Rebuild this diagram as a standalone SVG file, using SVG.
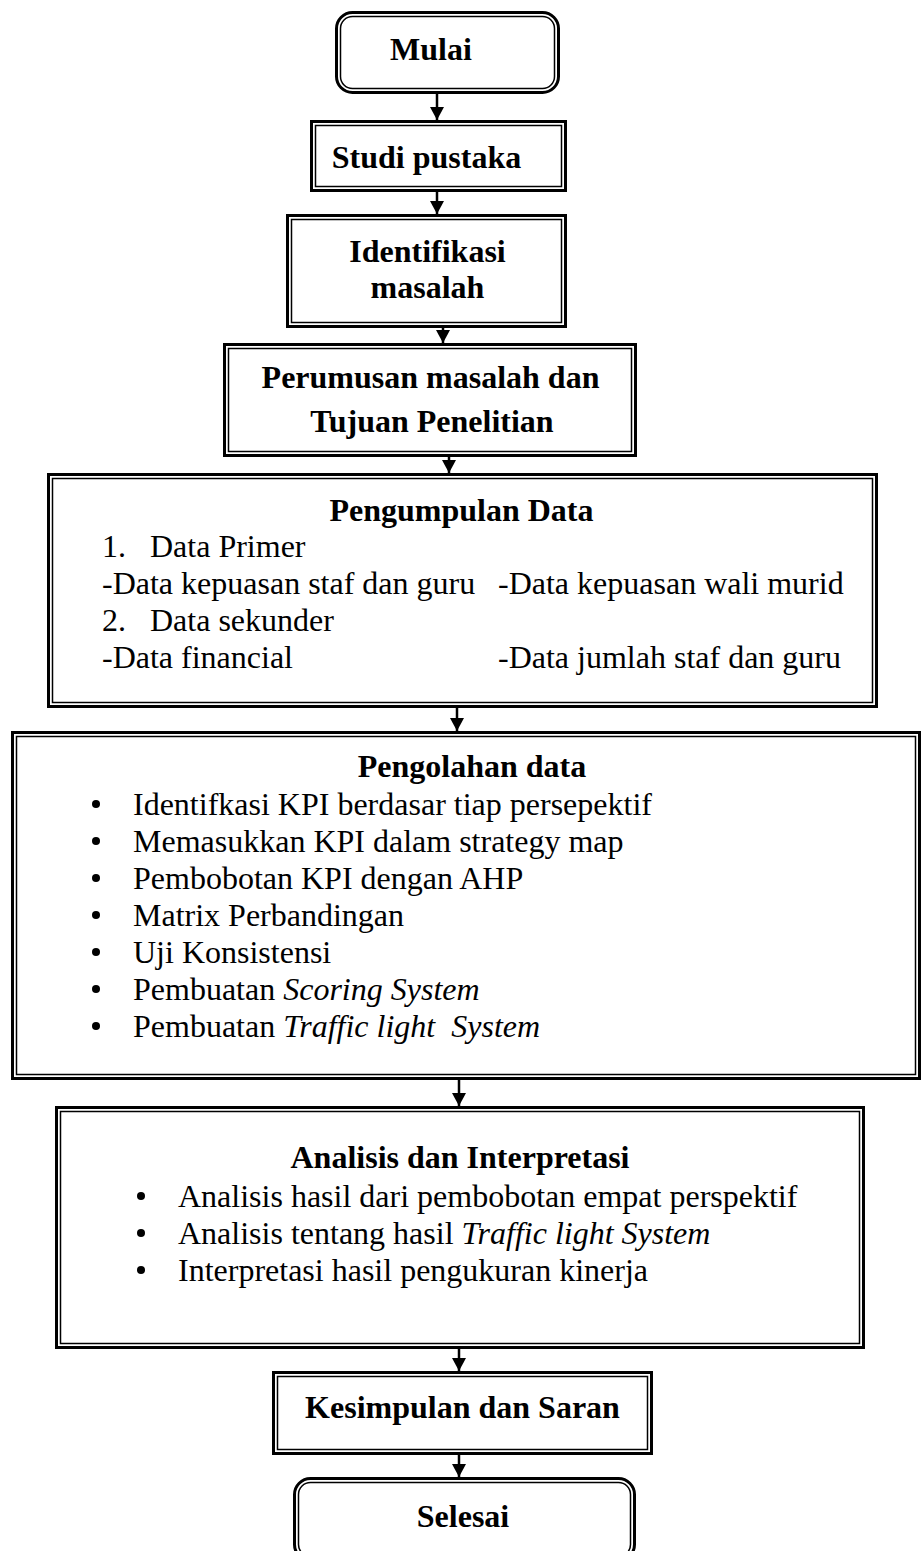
<svg xmlns="http://www.w3.org/2000/svg" width="923" height="1551" viewBox="0 0 923 1551">
<defs>
<style>
.o{fill:none;stroke:#000;stroke-width:3}
.i{fill:none;stroke:#000;stroke-width:1.5}
.h{font-family:"Liberation Serif","Times New Roman",serif;font-size:32px;font-weight:bold;text-anchor:middle;fill:#000}
.t{font-family:"Liberation Serif","Times New Roman",serif;font-size:32px;fill:#000;white-space:pre}
.it{font-style:italic}
.c{stroke:#000;stroke-width:2.5;fill:none;marker-end:url(#ah)}
.b{fill:#000}
</style>
<marker id="ah" viewBox="0 0 13 14" refX="13" refY="7" markerWidth="13" markerHeight="14" markerUnits="userSpaceOnUse" orient="auto">
<path d="M0,0 L13,7 L0,14 Z" fill="#000"/>
</marker>
</defs>
<rect width="923" height="1551" fill="#fff"/>
<g id="connectors">
<line class="c" x1="437" y1="94" x2="437" y2="120"/>
<line class="c" x1="437" y1="192" x2="437" y2="214"/>
<line class="c" x1="443" y1="328" x2="443" y2="343"/>
<line class="c" x1="449" y1="457" x2="449" y2="473"/>
<line class="c" x1="457" y1="708" x2="457" y2="731"/>
<line class="c" x1="459" y1="1080" x2="459" y2="1106"/>
<line class="c" x1="459" y1="1349" x2="459" y2="1371"/>
<line class="c" x1="459" y1="1455" x2="459" y2="1477"/>
</g>
<g id="mulai">
<rect class="o" x="336.5" y="12.5" width="222" height="80" rx="16"/>
<rect class="i" x="340.5" y="16.5" width="214" height="72" rx="12"/>
<text class="h" x="431" y="60">Mulai</text>
</g>
<g id="studi">
<rect class="o" x="311.5" y="121.5" width="254" height="69"/>
<rect class="i" x="315.5" y="125.5" width="246" height="61"/>
<text class="h" x="426.5" y="168">Studi pustaka</text>
</g>
<g id="identifikasi">
<rect class="o" x="287.5" y="215.5" width="278" height="111"/>
<rect class="i" x="291.5" y="219.5" width="270" height="103"/>
<text class="h" x="427.5" y="262">Identifikasi</text>
<text class="h" x="427.5" y="298">masalah</text>
</g>
<g id="perumusan">
<rect class="o" x="224.5" y="344.5" width="411" height="111"/>
<rect class="i" x="228.5" y="348.5" width="403" height="103"/>
<text class="h" x="430.5" y="388">Perumusan masalah dan</text>
<text class="h" x="432" y="432">Tujuan Penelitian</text>
</g>
<g id="pengumpulan">
<rect class="o" x="48.5" y="474.5" width="828" height="232"/>
<rect class="i" x="52.5" y="478.5" width="820" height="224"/>
<text class="h" x="461.5" y="521">Pengumpulan Data</text>
<text class="t" x="102" y="557">1.</text>
<text class="t" x="150" y="557">Data Primer</text>
<text class="t" x="102" y="594">-Data kepuasan staf dan guru</text>
<text class="t" x="498" y="594">-Data kepuasan wali murid</text>
<text class="t" x="102" y="631">2.</text>
<text class="t" x="150" y="631">Data sekunder</text>
<text class="t" x="102" y="668">-Data financial</text>
<text class="t" x="498" y="668">-Data jumlah staf dan guru</text>
</g>
<g id="pengolahan">
<rect class="o" x="12.5" y="732.5" width="907" height="346"/>
<rect class="i" x="16.5" y="736.5" width="899" height="338"/>
<text class="h" x="472" y="777">Pengolahan data</text>
<circle class="b" cx="96" cy="804" r="4"/>
<text class="t" x="133" y="815">Identifkasi KPI berdasar tiap persepektif</text>
<circle class="b" cx="96" cy="841" r="4"/>
<text class="t" x="133" y="852">Memasukkan KPI dalam strategy map</text>
<circle class="b" cx="96" cy="878" r="4"/>
<text class="t" x="133" y="889">Pembobotan KPI dengan AHP</text>
<circle class="b" cx="96" cy="915" r="4"/>
<text class="t" x="133" y="926">Matrix Perbandingan</text>
<circle class="b" cx="96" cy="952" r="4"/>
<text class="t" x="133" y="963">Uji Konsistensi</text>
<circle class="b" cx="96" cy="989" r="4"/>
<text class="t" x="133" y="1000">Pembuatan <tspan class="it">Scoring System</tspan></text>
<circle class="b" cx="96" cy="1026" r="4"/>
<text class="t" x="133" y="1037">Pembuatan <tspan class="it">Traffic light  System</tspan></text>
</g>
<g id="analisis">
<rect class="o" x="56.5" y="1107.5" width="807" height="240"/>
<rect class="i" x="60.5" y="1111.5" width="799" height="232"/>
<text class="h" x="460" y="1168">Analisis dan Interpretasi</text>
<circle class="b" cx="141" cy="1196" r="4"/>
<text class="t" x="178" y="1207">Analisis hasil dari pembobotan empat perspektif</text>
<circle class="b" cx="141" cy="1233" r="4"/>
<text class="t" x="178" y="1244">Analisis tentang hasil <tspan class="it">Traffic light System</tspan></text>
<circle class="b" cx="141" cy="1270" r="4"/>
<text class="t" x="178" y="1281">Interpretasi hasil pengukuran kinerja</text>
</g>
<g id="kesimpulan">
<rect class="o" x="273.5" y="1372.5" width="378" height="81"/>
<rect class="i" x="277.5" y="1376.5" width="370" height="73"/>
<text class="h" x="462.5" y="1418">Kesimpulan dan Saran</text>
</g>
<g id="selesai">
<rect class="o" x="294.5" y="1478.5" width="340" height="82" rx="16"/>
<rect class="i" x="298.5" y="1482.5" width="332" height="74" rx="12"/>
<text class="h" x="463" y="1527">Selesai</text>
</g>
</svg>
